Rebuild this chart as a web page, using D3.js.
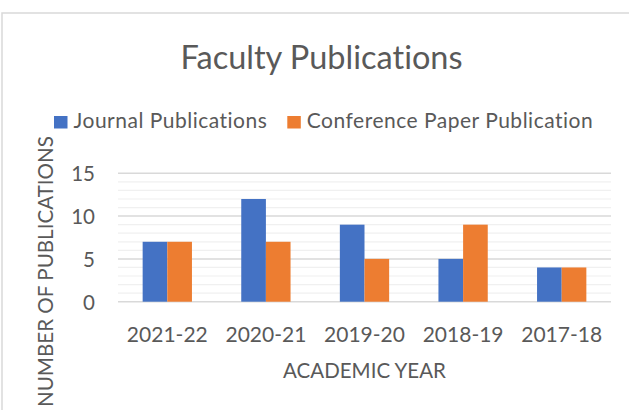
<!DOCTYPE html>
<html><head><meta charset="utf-8">
<script src="https://cdn.jsdelivr.net/npm/d3@7"></script>
<style>body{margin:0;background:#fff}svg{display:block}text{font-family:Lato,"Open Sans",sans-serif;fill:#595959;font-variant-ligatures:none;font-feature-settings:"liga" 0}</style>
</head><body>
<script>
const categories = ["2021-22","2020-21","2019-20","2018-19","2017-18"];
const seriesNames = ["Journal Publications","Conference Paper Publication"];
const journal = [7,12,9,5,4];
const conference = [7,7,5,9,4];
const yTicks = [0,5,10,15];
const colors = ["#4472C4","#ED7D31"];

const W=629,H=410;
const svg=d3.select("body").append("svg").attr("width",W).attr("height",H);
svg.append("rect").attr("x",2).attr("y",13).attr("width",W+10).attr("height",H+10)
  .attr("fill","#fff").attr("stroke","#D9D9D9").attr("stroke-width",1.5);

const x=d3.scaleBand().domain(categories).range([118,611]).paddingInner(0.5).paddingOuter(0.25);
const xs=d3.scaleBand().domain(seriesNames).range([0,x.bandwidth()]);
const y=d3.scaleLinear().domain([0,15]).range([301.7,173.3]);

// gridlines
svg.append("g").selectAll("line").data(d3.range(0,16)).join("line")
  .attr("x1",118).attr("x2",611).attr("y1",d=>y(d)).attr("y2",d=>y(d))
  .attr("stroke",d=>d%5===0?"#D9D9D9":"#F0F0F0").attr("stroke-width",d=>d%5===0?1.5:1.2);

const data=categories.map((c,i)=>({c,vals:[journal[i],conference[i]]}));
const g=svg.append("g").selectAll("g").data(data).join("g").attr("transform",d=>`translate(${x(d.c)},0)`);
g.selectAll("rect").data(d=>d.vals.map((v,j)=>({v,s:seriesNames[j],j}))).join("rect")
  .attr("x",d=>xs(d.s)).attr("width",xs.bandwidth()).attr("y",d=>y(d.v)).attr("height",d=>y(0)-y(d.v))
  .attr("fill",d=>colors[d.j]);

// y axis labels
const ya=d3.axisLeft(y).tickValues(yTicks).tickSize(0).tickPadding(0);
const yg=svg.append("g").attr("transform","translate(95,0)").call(ya);
yg.select(".domain").remove();
yg.selectAll("text").attr("font-size",20.5).attr("font-family","Lato").attr("fill","#595959").attr("dy","0.36em");

// x axis labels
const xa=d3.axisBottom(x).tickSize(0).tickPadding(0);
const xg=svg.append("g").attr("transform","translate(0,341.7)").call(xa);
xg.select(".domain").remove();
xg.selectAll("text").attr("font-size",21).attr("font-family","Lato").attr("fill","#595959").attr("dy",0).attr("y",0);

// titles
svg.append("text").attr("x",321.5).attr("y",69).attr("text-anchor","middle").attr("font-size",32.5).text("Faculty Publications");
svg.append("text").attr("x",364.5).attr("y",378).attr("text-anchor","middle").attr("font-size",20.5).text("ACADEMIC YEAR");
svg.append("text").attr("transform","translate(53,136) rotate(-90)").attr("text-anchor","end").attr("font-size",20.6).text("NUMBER OF PUBLICATIONS");

// legend
const legX=[54,287.3];
const lg=svg.append("g").selectAll("g").data(seriesNames).join("g").attr("transform",(d,i)=>`translate(${legX[i]},0)`);
lg.append("rect").attr("x",0).attr("y",116).attr("width",13.5).attr("height",12.5).attr("fill",(d,i)=>colors[i]);
lg.append("text").attr("x",19.5).attr("y",128.3).attr("font-size",21).attr("letter-spacing",0.5).text(d=>d);
</script>
</body></html>
